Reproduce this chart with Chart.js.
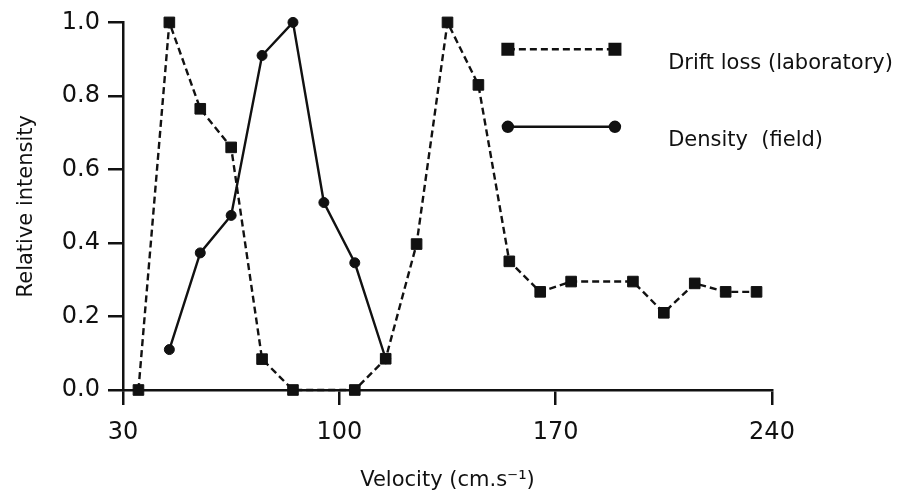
<!DOCTYPE html>
<html>
<head>
<meta charset="utf-8">
<script src="https://cdn.jsdelivr.net/npm/chart.js@4/dist/chart.umd.min.js"></script>
<style>
  html, body { margin: 0; padding: 0; background: #ffffff; }
  #wrap { width: 902px; height: 502px; position: relative; }
</style>
</head>
<body>
<div id="wrap"><canvas id="c" width="902" height="502"></canvas></div>
<script>
// ---- data ----
const driftVelocity = [35, 45, 55, 65, 75, 85, 105, 115, 125, 135, 145, 155, 165, 175, 195, 205, 215, 225, 235];
const driftLoss     = [0.0, 1.0, 0.765, 0.66, 0.084, 0.0, 0.0, 0.085, 0.397, 1.0, 0.83, 0.35, 0.267, 0.295, 0.295, 0.21, 0.29, 0.267, 0.267];
const densityVelocity = [45, 55, 65, 75, 85, 95, 105, 115];
const densityValue    = [0.11, 0.373, 0.475, 0.91, 1.0, 0.51, 0.346, 0.085];
const xTicks = [30, 100, 170, 240];
const yTicks = [0.0, 0.2, 0.4, 0.6, 0.8, 1.0];
const seriesNames = ['Drift loss (laboratory)', 'Density  (field)'];
const xTitle = 'Velocity (cm.s\u207B\u00B9)';
const yTitle = 'Relative intensity';

const INK = '#111111';
const FONT = "'DejaVu Sans', 'Liberation Sans', sans-serif";

const toPts = (xs, ys) => xs.map((x, i) => ({ x: x, y: ys[i] }));

const legendPlugin = {
  id: 'insideLegend',
  afterDraw(chart) {
    const ctx = chart.ctx;
    const a = chart.chartArea;
    const w = a.right - a.left, h = a.bottom - a.top;
    const x0 = a.left + 0.593 * w, x1 = a.left + 0.758 * w;
    const tx = a.left + 0.840 * w;
    const rows = [a.top + 0.073 * h, a.top + 0.284 * h];
    chart.data.datasets.forEach((ds, i) => {
      const y = rows[i];
      ctx.save();
      ctx.strokeStyle = ds.borderColor;
      ctx.lineWidth = ds.borderWidth;
      ctx.setLineDash(ds.borderDash || []);
      ctx.beginPath();
      ctx.moveTo(x0, y); ctx.lineTo(x1, y);
      ctx.stroke();
      ctx.setLineDash([]);
      ctx.fillStyle = ds.pointBackgroundColor;
      [x0, x1].forEach(px => {
        Chart.helpers.drawPoint(ctx, { pointStyle: ds.pointStyle, rotation: 0, borderWidth: 1, radius: ds.pointRadius }, px, y);
        ctx.fill();
      });
      ctx.fillStyle = INK;
      ctx.font = '21px ' + FONT;
      ctx.textAlign = 'left';
      ctx.textBaseline = 'middle';
      ctx.fillText(ds.label, tx, y + 14);
      ctx.restore();
    });
  }
};

new Chart(document.getElementById('c'), {
  type: 'line',
  data: {
    datasets: [
      {
        label: seriesNames[0],
        data: toPts(driftVelocity, driftLoss),
        borderColor: INK,
        borderWidth: 2.4,
        borderDash: [7, 4],
        pointStyle: 'rect',
        pointRadius: 7.5,
        pointBorderWidth: 1,
        pointBackgroundColor: INK,
        pointBorderColor: INK,
        tension: 0,
        clip: false,
        order: 1
      },
      {
        label: seriesNames[1],
        data: toPts(densityVelocity, densityValue),
        borderColor: INK,
        borderWidth: 2.4,
        pointStyle: 'circle',
        pointRadius: 5,
        pointBorderWidth: 1,
        pointBackgroundColor: INK,
        pointBorderColor: INK,
        tension: 0,
        clip: false,
        order: 2
      }
    ]
  },
  options: {
    responsive: false,
    animation: false,
    devicePixelRatio: 1,
    layout: { padding: { left: 0, right: 130, top: 20, bottom: 0 } },
    plugins: { legend: { display: false }, tooltip: { enabled: false } },
    scales: {
      x: {
        type: 'linear',
        min: 30, max: 240,
        afterBuildTicks: s => { s.ticks = xTicks.map(v => ({ value: v })); },
        afterFit: s => { s.height = 112; },
        border: { display: true, color: INK, width: 2.5 },
        grid: { drawOnChartArea: false, drawTicks: true, tickLength: 15, color: INK, lineWidth: 2.5 },
        ticks: { color: INK, font: { family: FONT, size: 24 }, padding: 13, maxRotation: 0 },
        title: { display: true, text: xTitle, color: INK, font: { family: FONT, size: 21 }, padding: { top: 0, bottom: 9 } }
      },
      y: {
        type: 'linear',
        min: 0, max: 1,
        afterBuildTicks: s => { s.ticks = yTicks.map(v => ({ value: v })); },
        afterFit: s => { s.width = 123; },
        border: { display: true, color: INK, width: 2.5 },
        grid: { drawOnChartArea: false, drawTicks: true, tickLength: 15, color: INK, lineWidth: 2.5 },
        ticks: { color: INK, font: { family: FONT, size: 24 }, padding: 8, callback: v => v.toFixed(1) },
        title: { display: true, text: yTitle, color: INK, font: { family: FONT, size: 21 }, padding: { top: 14, bottom: 0 } }
      }
    }
  },
  plugins: [legendPlugin]
});
</script>
</body>
</html>
